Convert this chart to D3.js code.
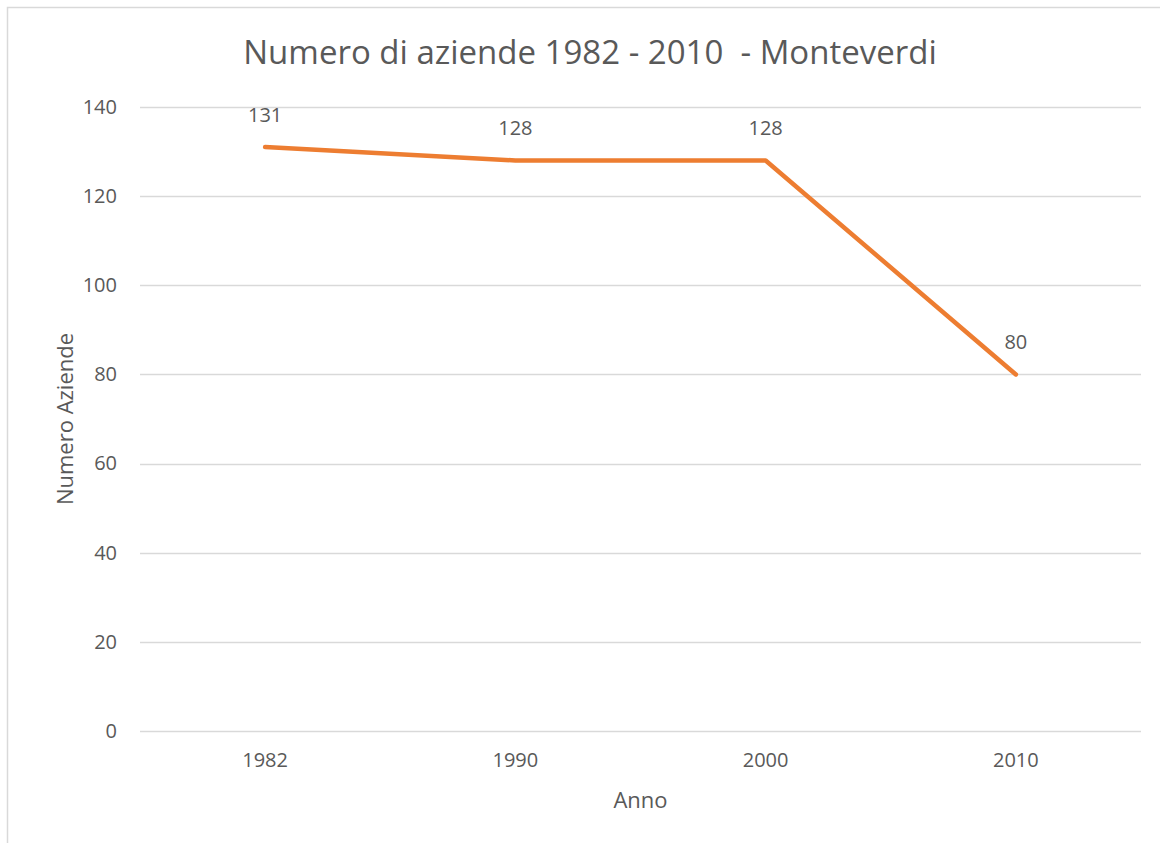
<!DOCTYPE html>
<meta charset="utf-8">
<script src="https://d3js.org/d3.v7.min.js"></script>
<style>
body { margin: 0; background: #fff; }
text { font-family: "Open Sans", "Noto Sans", sans-serif; fill: #595959; }
</style>
<div id="chart"></div>
<script>
// data
var years = ["1982", "1990", "2000", "2010"];
var aziende = [131, 128, 128, 80];
var yTicks = [0, 20, 40, 60, 80, 100, 120, 140];

var W = 1160, H = 843;
var margin = {top: 107, right: 19, bottom: 112, left: 140};
var width = W - margin.left - margin.right,
    height = H - margin.top - margin.bottom;

var svg = d3.select("#chart").append("svg")
  .attr("width", W)
  .attr("height", H);

// outer chart border
svg.append("rect")
  .attr("x", 7.5).attr("y", 7.5)
  .attr("width", W + 10).attr("height", H + 10)
  .attr("fill", "none")
  .attr("stroke", "#d9d9d9")
  .attr("stroke-width", 1.5);

var g = svg.append("g")
  .attr("transform", "translate(" + margin.left + "," + margin.top + ")");

var x = d3.scaleBand().domain(years).range([0, width]);
var y = d3.scaleLinear().domain([0, 140]).range([height, 0]);

// gridlines
g.selectAll(".grid").data(yTicks).enter().append("line")
  .attr("x1", 0).attr("x2", width)
  .attr("y1", function(d) { return Math.round(y(d)) + 0.5; })
  .attr("y2", function(d) { return Math.round(y(d)) + 0.5; })
  .attr("stroke", "#d9d9d9")
  .attr("stroke-width", 1.3);

// y axis labels
var yAxis = g.append("g")
  .call(d3.axisLeft(y).tickValues(yTicks).tickSize(0).tickPadding(23));
yAxis.select(".domain").remove();
yAxis.selectAll("text").style("font-size", "20px").attr("fill", "#595959");

// x axis labels
var xAxis = g.append("g")
  .attr("transform", "translate(0," + height + ")")
  .call(d3.axisBottom(x).tickSize(0).tickPadding(22));
xAxis.select(".domain").remove();
xAxis.selectAll("text").style("font-size", "20px").attr("fill", "#595959");

// line
var pts = years.map(function(yr, i) { return {year: yr, v: aziende[i]}; });
g.append("path")
  .datum(pts)
  .attr("fill", "none")
  .attr("stroke", "#ED7D31")
  .attr("stroke-width", 4.5)
  .attr("stroke-linecap", "round")
  .attr("stroke-linejoin", "round")
  .attr("d", d3.line()
    .x(function(d) { return x(d.year) + x.bandwidth() / 2; })
    .y(function(d) { return y(d.v); }));

// data labels
g.selectAll(".lbl").data(pts).enter().append("text")
  .attr("x", function(d) { return x(d.year) + x.bandwidth() / 2; })
  .attr("y", function(d) { return y(d.v) - 25; })
  .attr("text-anchor", "middle")
  .style("font-size", "20px")
  .text(function(d) { return d.v; });

// title
svg.append("text")
  .attr("x", 590).attr("y", 64)
  .attr("text-anchor", "middle")
  .style("font-size", "33px")
  .style("white-space", "pre")
  .text("Numero di aziende 1982 - 2010  - Monteverdi");

// axis titles
svg.append("text")
  .attr("x", margin.left + width / 2).attr("y", 808)
  .attr("text-anchor", "middle")
  .style("font-size", "22px")
  .text("Anno");

svg.append("text")
  .attr("transform", "translate(73," + (margin.top + height / 2) + ") rotate(-90)")
  .attr("text-anchor", "middle")
  .style("font-size", "22px")
  .text("Numero Aziende");
</script>
